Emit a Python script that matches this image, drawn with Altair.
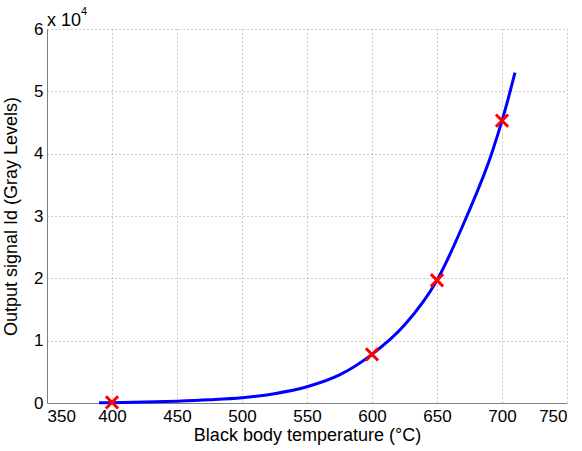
import altair as alt
import pandas as pd

# Calibration curve: black body temperature (°C) vs output signal (gray levels)
curve_temp = [390, 400, 425, 450, 475, 500, 525, 550, 575, 600, 625, 650, 673, 692, 700, 705, 710]
curve_signal = [30, 60, 150, 300, 520, 850, 1500, 2600, 4500, 7800, 12500, 19700,
                30000, 40000, 45300, 49000, 53000]

# Measured points
meas_temp = [400, 600, 650, 700]
meas_signal = [100, 7800, 19700, 45300]

x_ticks = [350, 400, 450, 500, 550, 600, 650, 700, 750]
y_ticks = [0, 10000, 20000, 30000, 40000, 50000, 60000]

curve_df = pd.DataFrame({"temp": curve_temp, "signal": curve_signal})
meas_df = pd.DataFrame({"temp": meas_temp, "signal": meas_signal})

FONT = "Liberation Sans"
LABEL_SIZE = 17
TITLE_SIZE = 18

common_axis = dict(
    grid=True,
    gridDash=[1, 3],
    gridColor="#9a9a9a",
    domainColor="#808080",
    tickSize=0,
    labelFontSize=LABEL_SIZE,
    titleFontSize=TITLE_SIZE,
    labelFont=FONT,
    titleFont=FONT,
    titleFontWeight="normal",
    labelColor="black",
    titleColor="black",
)

x_enc = alt.X(
    "temp:Q",
    scale=alt.Scale(domain=[350, 750], nice=False, zero=False),
    axis=alt.Axis(
        values=x_ticks,
        title="Black body temperature (°C)",
        labelPadding=5,
        titlePadding=2,
        **common_axis,
    ),
)
y_enc = alt.Y(
    "signal:Q",
    scale=alt.Scale(domain=[0, 60000], nice=False),
    axis=alt.Axis(
        values=y_ticks,
        labelExpr="datum.value / 10000",
        title="Output signal Id (Gray Levels)",
        labelPadding=4,
        titlePadding=13,
        **common_axis,
    ),
)

line = alt.Chart(curve_df).mark_line(color="#0000ff", strokeWidth=3, interpolate="monotone").encode(
    x=x_enc, y=y_enc
)

points = alt.Chart(meas_df).mark_point(
    shape="M-1,-1L1,1M1,-1L-1,1",
    filled=False,
    color="#ff0000",
    strokeWidth=3,
    size=150,
    opacity=1,
).encode(x="temp:Q", y="signal:Q")

# Axis exponent label "x 10^4" at the top of the y axis
exp_df = pd.DataFrame({"temp": [350], "signal": [60000]})
exp_base = alt.Chart(exp_df).mark_text(
    text="x 10", align="left", baseline="alphabetic", dx=0, dy=-3,
    fontSize=18, font=FONT, color="black",
).encode(x="temp:Q", y="signal:Q")
exp_pow = alt.Chart(exp_df).mark_text(
    text="4", align="left", baseline="alphabetic", dx=34, dy=-14,
    fontSize=11, font=FONT, color="black",
).encode(x="temp:Q", y="signal:Q")

chart = (
    alt.layer(line, points, exp_base, exp_pow)
    .properties(
        width=520,
        height=374,
        autosize=alt.AutoSizeParams(type="none"),
        padding={"left": 47, "top": 29, "right": 15, "bottom": 48},
        background="white",
    )
    .configure_view(stroke=None)
)

chart.save("out.html", embed_options={"renderer": "svg", "actions": False})
